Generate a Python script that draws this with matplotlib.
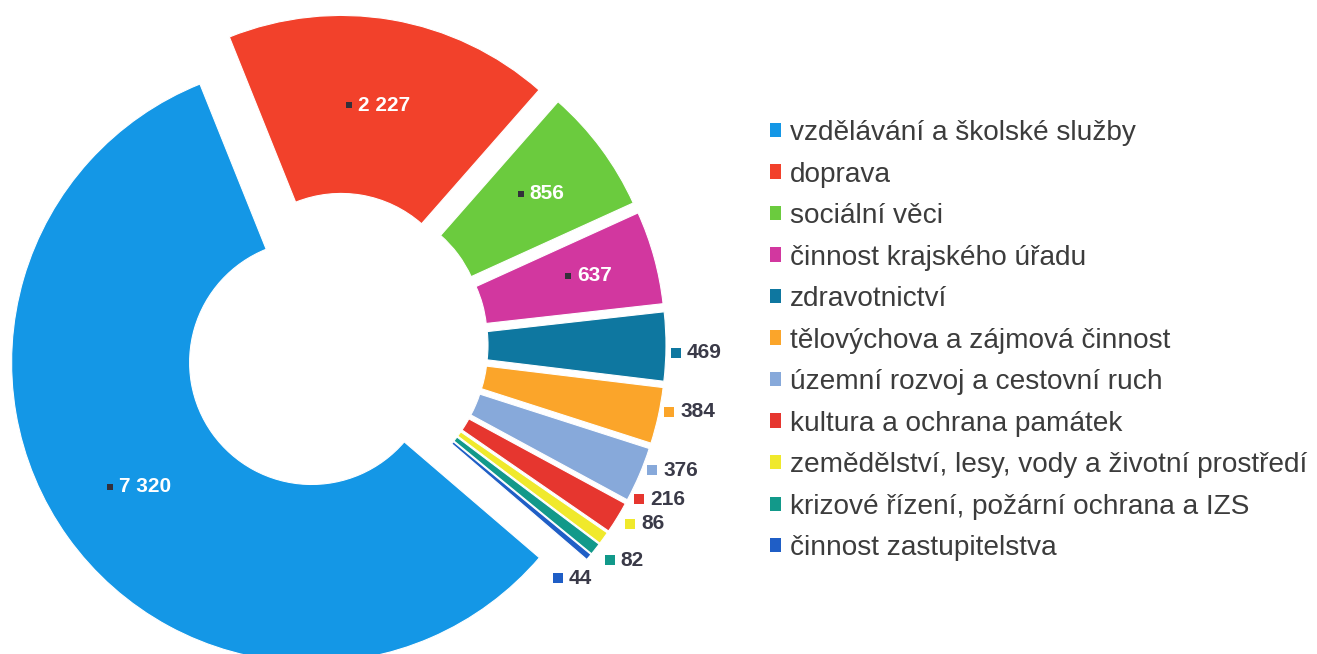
import numpy as np
import matplotlib
matplotlib.use("Agg")
import matplotlib.pyplot as plt
from matplotlib.patches import Patch

plt.rcParams['font.family'] = ['Liberation Sans', 'DejaVu Sans']

# data
categories = [
    'vzdělávání a školské služby',
    'doprava',
    'sociální věci',
    'činnost krajského úřadu',
    'zdravotnictví',
    'tělovýchova a zájmová činnost',
    'územní rozvoj a cestovní ruch',
    'kultura a ochrana památek',
    'zemědělství, lesy, vody a životní prostředí',
    'krizové řízení, požární ochrana a IZS',
    'činnost zastupitelstva',
]
values = [7320, 2227, 856, 637, 469, 384, 376, 216, 86, 82, 44]
value_labels = ['7 320', '2 227', '856', '637', '469', '384', '376', '216', '86', '82', '44']

colors = ['#1497E6', '#F2412B', '#6BCB3E', '#D2379F', '#0E77A0', '#FBA52A',
          '#87A9DA', '#E6362F', '#F0E92C', '#12998A', '#1F5EC6']

# layout (pixels)
W, H = 1317, 654
cx, cy = 336, H - 345
R = 300
ring = 178
gap = 30
inside = [True, True, True, True] + [False] * 7
label_nudge = [0, 0, 0, 0, -1, 1, 1.5, 4.5, 4.5, 0, -6.5]   # degrees
# inside: distance from the wedge's own centre; outside: from the pie centre
label_rad = [213, 213, 224, 231, 340, 340, 340, 340, 344, 348, 322]

fig = plt.figure(figsize=(W / 100, H / 100), dpi=100)
ax = fig.add_axes([0, 0, 1, 1])

wedges, _ = ax.pie(values, colors=colors, startangle=-40.6, counterclock=False,
                   radius=R, center=(cx, cy), explode=[gap] * len(values),
                   wedgeprops=dict(width=ring, linewidth=0.8, edgecolor='white'))
ax.set_xlim(0, W)
ax.set_ylim(0, H)
ax.set_aspect('equal')
ax.axis('off')

fig.canvas.draw()
ren = fig.canvas.get_renderer()

for i, w in enumerate(wedges):
    th = np.deg2rad((w.theta1 + w.theta2) / 2 + label_nudge[i])
    rr = label_rad[i]
    if inside[i]:
        wx, wy = w.center
        px, py = wx + rr * np.cos(th), wy + rr * np.sin(th)
        t = ax.text(px + 7, py, value_labels[i], ha='center', va='center',
                    fontsize=15, color='white', fontweight='bold')
        tw = t.get_window_extent(ren).width
        ax.plot(px + 7 - tw / 2 - 9, py, marker='s', ms=5, color='#33303a', mew=0)
    else:
        px, py = cx + rr * np.cos(th), cy + rr * np.sin(th)
        ax.plot(px, py, marker='s', ms=7, color=colors[i], mew=0)
        ax.text(px + 11, py, value_labels[i], ha='left', va='center',
                fontsize=15, color='#3a3a48', fontweight='bold')

handles = [Patch(facecolor=c, edgecolor='none') for c in colors]
fig.legend(handles, categories, loc='upper left', bbox_to_anchor=(770 / W, 1 - 120 / H),
           frameon=False, fontsize=20.2, labelcolor='#3c3c3c',
           handlelength=0.4, handleheight=0.4, handletextpad=0.3,
           labelspacing=0.553, borderpad=0, borderaxespad=0)

fig.savefig('out.png', dpi=100)
